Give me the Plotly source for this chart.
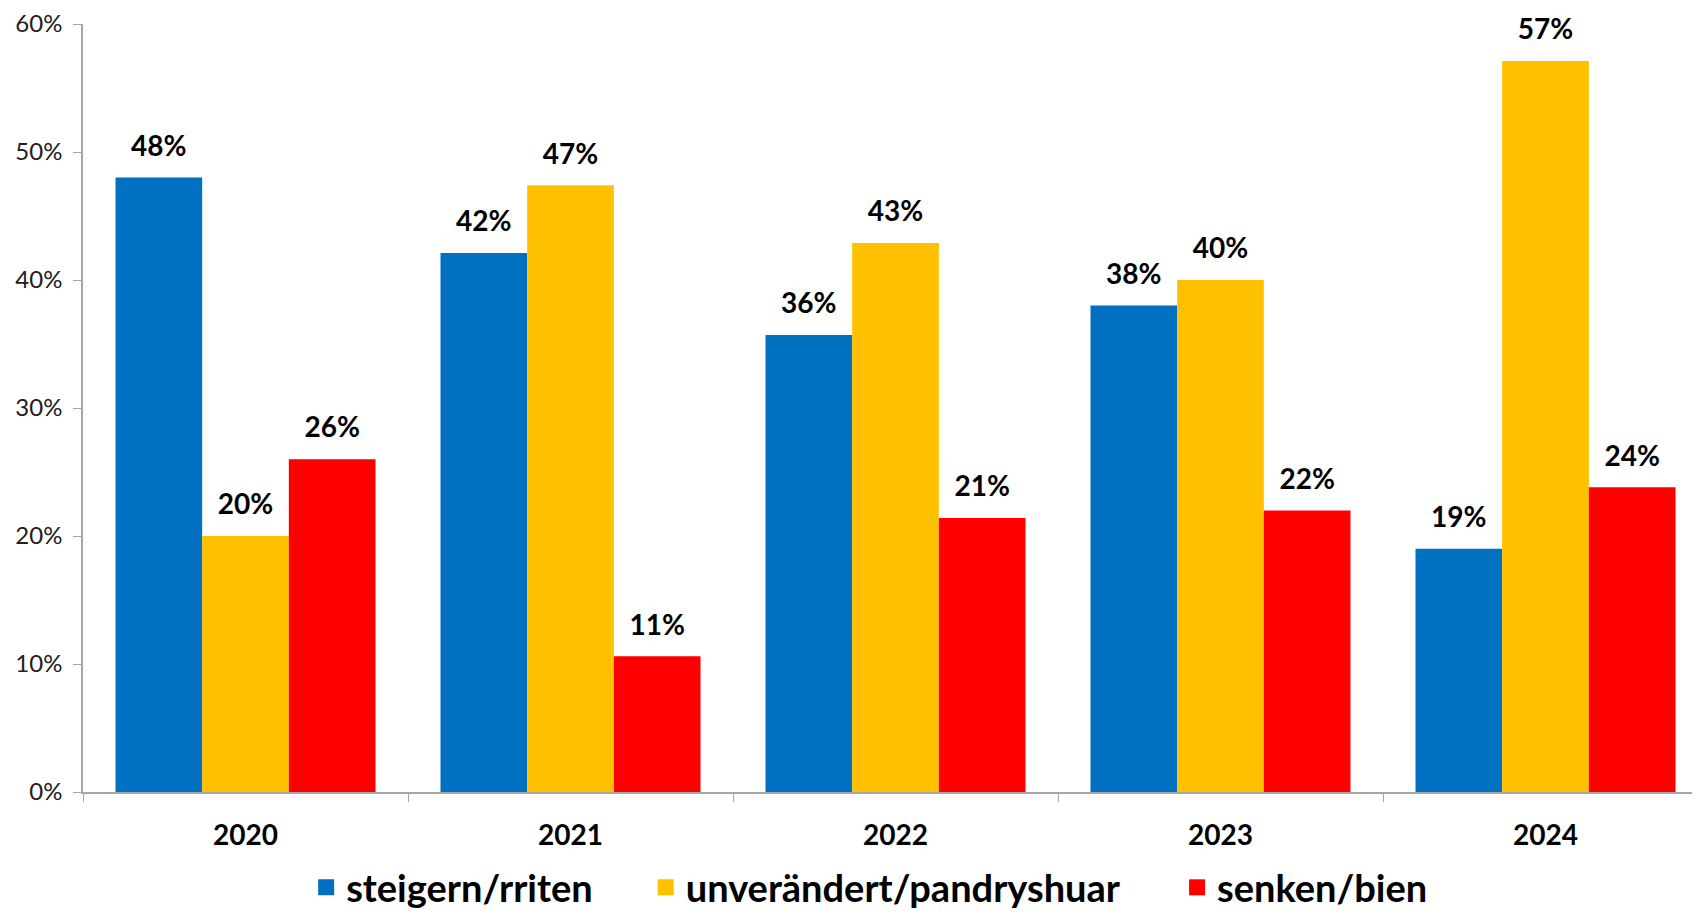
import plotly.graph_objects as go

years = ["2020", "2021", "2022", "2023", "2024"]
series_names = ["steigern/rriten", "unverändert/pandryshuar", "senken/bien"]
steigern = [48.0, 42.1, 35.7, 38.0, 19.0]
unveraendert = [20.0, 47.4, 42.9, 40.0, 57.1]
senken = [26.0, 10.6, 21.4, 22.0, 23.8]
colors = ["#0070C0", "#FFC000", "#FF0000"]
y_ticks = [0, 10, 20, 30, 40, 50, 60]
y_tick_text = [f"{v}%" for v in y_ticks]

FONT = "Lato"
legend_ids = ["legend", "legend2", "legend3"]
legend_x = [0.138, 0.348, 0.6766]

fig = go.Figure()
for i, (name, vals, col) in enumerate(zip(series_names, [steigern, unveraendert, senken], colors)):
    grp = f"g{i}"
    fig.add_trace(go.Bar(
        x=years, y=vals, name=name, marker=dict(color=col, line=dict(width=0)),
        offsetgroup=grp, showlegend=False,
    ))
    fig.add_trace(go.Scatter(
        x=years, y=vals, mode="markers+text", offsetgroup=grp,
        marker=dict(size=22, opacity=0),
        text=[f"{round(v)}%" for v in vals], textposition="top center",
        textfont=dict(family=FONT, size=28, color="black", weight="bold"),
        cliponaxis=False, showlegend=False, hoverinfo="skip",
    ))
    fig.add_trace(go.Scatter(
        x=[None], y=[None], mode="markers", name=name, offsetgroup=grp,
        marker=dict(symbol="square", size=16, color=col), legend=legend_ids[i],
    ))

legend_common = dict(orientation="h", xanchor="left", y=-0.1655, yanchor="bottom",
                     font=dict(family=FONT, size=38, color="black", weight="bold"),
                     bgcolor="rgba(0,0,0,0)")

fig.update_layout(
    width=1692, height=912,
    margin=dict(l=75, r=0, t=16, b=128),
    paper_bgcolor="white", plot_bgcolor="white",
    barmode="group", bargap=0.2, bargroupgap=0,
    scattermode="group", scattergap=0.2,
    font=dict(family=FONT, color="black"),
    legend=dict(x=legend_x[0], **legend_common),
    legend2=dict(x=legend_x[1], **legend_common),
    legend3=dict(x=legend_x[2], **legend_common),
    xaxis=dict(type="category", range=[-0.5, 4.5 - 8 / 325],
               showline=True, linecolor="#A6A6A6", linewidth=1.5,
               ticks="outside", tickson="boundaries", ticklen=8, tickcolor="#A6A6A6",
               tickfont=dict(family=FONT, size=28, color="black", weight="bold"),
               ticklabelstandoff=18, showgrid=False),
    yaxis=dict(range=[0, 60], tickmode="array", tickvals=y_ticks, ticktext=y_tick_text,
               showline=True, linecolor="#A6A6A6", linewidth=1.5,
               ticks="outside", ticklen=8, tickcolor="#A6A6A6",
               tickfont=dict(family=FONT, size=24, color="#202020"),
               ticklabelstandoff=6, showgrid=False, zeroline=False),
)
fig.write_html("out.html")
